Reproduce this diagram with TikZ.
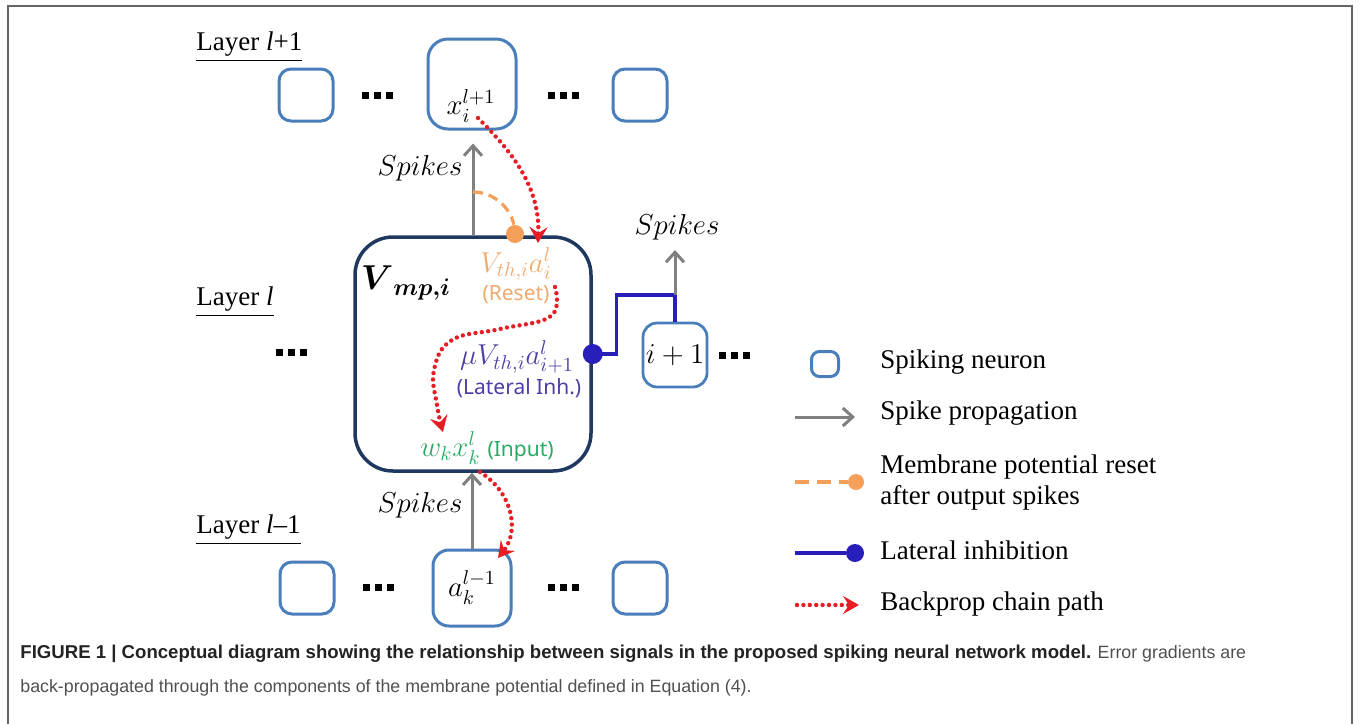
\documentclass[tikz,border=0pt]{standalone}
\usepackage{amsmath,amssymb}
\usepackage{fontspec}
\setmainfont{Liberation Serif}
\newfontfamily\notesans{Noto Sans}
\newfontfamily\capsans{Liberation Sans}
\usetikzlibrary{arrows.meta,positioning}
\definecolor{neuronblue}{RGB}{74,126,187}
\definecolor{navy}{RGB}{31,56,96}
\definecolor{spikegray}{RGB}{128,128,128}
\definecolor{resetorange}{RGB}{244,160,90}
\definecolor{resettext}{RGB}{240,170,110}
\definecolor{inhblue}{RGB}{40,30,185}
\definecolor{inhtext}{RGB}{80,60,165}
\definecolor{inputgreen}{RGB}{40,170,100}
\definecolor{bpred}{RGB}{230,30,35}
\definecolor{framegray}{RGB}{100,100,100}
\definecolor{capbold}{RGB}{35,35,35}
\definecolor{captext}{RGB}{80,80,80}
\newcommand{\nrdots}{\rule{3.5pt}{3.5pt}\hspace{2.5pt}\rule{3.5pt}{3.5pt}\hspace{2.5pt}\rule{3.5pt}{3.5pt}}
\tikzset{%
    neuron/.style={draw=neuronblue, line width=1.5pt, rounded corners=6pt,
        minimum width=27pt, minimum height=26pt, inner sep=0pt},
    mainbox/.style={draw=navy, line width=1.75pt, rounded corners=19pt,
        minimum width=118pt, minimum height=117pt, inner sep=0pt},
    spike/.style={draw=spikegray, line width=1.5pt, -{Straight Barb[length=5pt,width=9pt]}},
    reset/.style={draw=resetorange, line width=1.6pt, dash pattern=on 5pt off 3pt},
    inhib/.style={draw=inhblue, line width=1.6pt},
    backprop/.style={draw=bpred, line width=2.2pt, line cap=round, dash pattern=on 0pt off 3.2pt,
        -{Stealth[length=8pt,width=9pt,inset=3pt,fill=bpred]}},
    odot/.style={circle, fill=resetorange, minimum size=9pt, inner sep=0pt},
    bdot/.style={circle, fill=inhblue, minimum size=10pt, inner sep=0pt},
    layer/.style={anchor=west, inner sep=0pt, font=\fontsize{13.5}{16}\selectfont},
    mlbl/.style={inner sep=0pt, font=\fontsize{14}{16}\selectfont},
    slbl/.style={inner sep=0pt, font=\notesans\fontsize{10.5}{13}\selectfont},
    legtext/.style={anchor=west, inner sep=0pt, align=left, font=\fontsize{13.5}{15.5}\selectfont},
    captext/.style={anchor=base west, inner sep=0pt, text=captext, font=\capsans\fontsize{8.9}{11}\selectfont}
}
\begin{document}
\begin{tikzpicture}[x=0.5pt,y=-0.5pt]
\useasboundingbox (0,0) rectangle (1360,724);
\draw[framegray, line width=1pt] (8,724) -- (8,6) -- (1352,6) -- (1352,724);

% layer l+1
\node[layer] (lup) at (196,47) {\underline{Layer \textit{l}+1}};
\node[neuron] (u1) at (306,95) {};
\node (ud1) at (377,95) {\nrdots};
\node[neuron, minimum width=44pt, minimum height=45pt, rounded corners=10pt] (ui) at (472,84) {};
\node[mlbl] (xi) at (471,106) {$x_i^{l+1}$};
\node (ud2) at (563,95) {\nrdots};
\node[neuron] (u2) at (640,95) {};

% layer l
\node[layer] (lmid) at (196,302) {\underline{Layer \textit{l}}};
\node (md1) at (291,352) {\nrdots};
\node[mainbox] (vmp) at (473,354) {};
\node[inner sep=0pt, font=\fontsize{17}{20}\selectfont] (vlbl) at (406,283) {$\boldsymbol{V}_{\boldsymbol{mp,i}}$};
\node[mlbl, text=resettext] (vth) at (516,264) {$V_{th,i}a_i^l$};
\node[slbl, text=resettext] (rst) at (516,295) {(Reset)};
\node[mlbl, text=inhtext] (mu) at (517,357) {$\mu V_{th,i}a_{i+1}^l$};
\node[slbl, text=inhtext] (lat) at (519,388) {(Lateral Inh.)};
\node[mlbl, text=inputgreen] (inp) at (487,448) {$w_k x_k^l$ \notesans\fontsize{10.5}{13}\selectfont(Input)};
\node[neuron, line width=1.4pt, minimum width=32pt, minimum height=32pt, rounded corners=7pt] (ni) at (675,355) {\fontsize{13.5}{16}\selectfont$i+1$};
\node (md2) at (734,355) {\nrdots};

% layer l-1
\node[layer] (ldn) at (196,530) {\underline{Layer \textit{l}--1}};
\node[neuron] (d1) at (307,588) {};
\node (dd1) at (378,587) {\nrdots};
\node[neuron, minimum width=39pt, minimum height=38pt, rounded corners=8pt] (dk) at (472,588) {\fontsize{14}{16}\selectfont$a_k^{l-1}$};
\node (dd2) at (563,587) {\nrdots};
\node[neuron] (d2) at (640,588) {};

% spikes
\draw[spike, shorten >=6.5pt] (vmp.north) -- (vmp.north |- ui.south);
\node[mlbl] (sp1) at (420,168) {$Spikes$};
\draw[spike] (dk.north) -- (dk.north |- vmp.south);
\node[mlbl] (sp3) at (420,505) {$Spikes$};

% reset
\coordinate (rs) at (473,192);
\node[odot] (rdot) at (515,234) {};
\draw[reset] (rs) .. controls (497,192) and (512,212) .. (rdot);

% lateral inhibition
\node[bdot] (ldot) at (vmp.east) {};
\coordinate (jn) at (675,295);
\coordinate (sp2e) at (675,250);
\draw[inhib] (ldot.center) -- ++(24,0) |- (jn) -- (ni.north);
\draw[spike] (jn) -- (sp2e);
\node[mlbl] (sp2) at (677,227) {$Spikes$};

% backprop chain
\coordinate (b1) at (478,118);
\coordinate (b1e) at (538,243);
\draw[backprop] (b1) .. controls (510,150) and (540,185) .. (b1e);
\coordinate (b2) at (555,287);
\coordinate (b2e) at (443,432);
\draw[backprop] plot[smooth, tension=0.7] coordinates {(b2) (551,316) (500,329) (452,340) (434,370) (437,405) (b2e)};
\coordinate (b3) at (480,472);
\coordinate (b3e) at (498,558);
\draw[backprop] (b3) .. controls (512,492) and (520,530) .. (b3e);

% legend
\node[neuron, line width=1.5pt, minimum width=13.5pt, minimum height=12.5pt, rounded corners=4pt] (kn) at (825,364) {};
\node[legtext] (tn) at (880,362) {Spiking neuron};
\coordinate (ks1) at (795,417);
\coordinate (ks2) at (855,417);
\draw[spike] (ks1) -- (ks2);
\node[legtext] (ts) at (880,413) {Spike propagation};
\coordinate (kr1) at (795,482);
\node[odot, minimum size=8pt] (kr2) at (856,482) {};
\draw[reset, dash pattern=on 7pt off 4pt] (kr1) -- (kr2);
\node[legtext] (tr) at (880,482) {Membrane potential reset\\after output spikes};
\coordinate (kl1) at (795,553);
\node[bdot, minimum size=9pt] (kl2) at (855,553) {};
\draw[inhib] (kl1) -- (kl2);
\node[legtext] (tl) at (880,550) {Lateral inhibition};
\coordinate (kb1) at (797,605);
\coordinate (kb2) at (859,605);
\draw[backprop] (kb1) -- (kb2);
\node[legtext] (tb) at (880,604) {Backprop chain path};

% caption
\node[captext] (cap1) at (20,658) {\textcolor{capbold}{\fontsize{9.3}{11}\selectfont\textbf{FIGURE 1 | Conceptual diagram showing the relationship between signals in the proposed spiking neural network model.}} Error gradients are};
\node[captext] (cap2) at (20,692) {back-propagated through the components of the membrane potential defined in Equation (4).};
\end{tikzpicture}
\end{document}
